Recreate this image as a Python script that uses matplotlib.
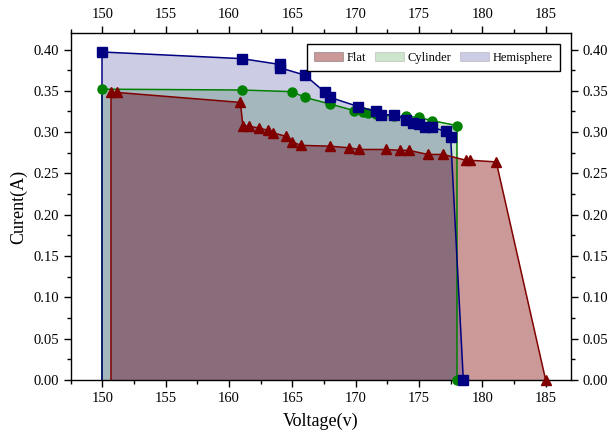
import matplotlib
matplotlib.use('Agg')
import matplotlib.pyplot as plt
from matplotlib.patches import Patch
from matplotlib.ticker import MultipleLocator, FormatStrFormatter

plt.rcParams['font.family'] = ['Liberation Serif', 'DejaVu Serif']

# Flat (triangles)
flat_v = [150.7, 151.2, 160.9, 161.1, 161.6, 162.4, 163.1, 163.5, 164.5, 165.0,
          165.7, 168.0, 169.5, 170.3, 172.4, 173.5, 174.2, 175.7, 176.9, 178.7,
          179.0, 181.1, 185.0]
flat_i = [0.348, 0.348, 0.336, 0.308, 0.307, 0.305, 0.302, 0.299, 0.295, 0.288,
          0.284, 0.283, 0.281, 0.279, 0.279, 0.278, 0.278, 0.273, 0.273, 0.266,
          0.266, 0.264, 0.0]

# Cylinder (circles)
cyl_v = [150.0, 161.0, 165.0, 166.0, 168.0, 169.9, 170.6, 171.0, 171.6, 173.0,
         174.0, 175.0, 176.0, 178.0, 178.0]
cyl_i = [0.352, 0.351, 0.349, 0.342, 0.334, 0.326, 0.324, 0.323, 0.322, 0.319,
         0.319, 0.318, 0.314, 0.308, 0.0]

# Hemisphere (squares)
hemi_v = [150.0, 161.0, 164.0, 164.0, 166.0, 167.6, 168.0, 170.2, 171.6, 172.0,
          173.0, 174.0, 174.5, 175.0, 175.5, 176.0, 177.1, 177.5, 178.5]
hemi_i = [0.397, 0.389, 0.382, 0.378, 0.369, 0.348, 0.342, 0.331, 0.325, 0.321,
          0.321, 0.315, 0.311, 0.310, 0.306, 0.306, 0.301, 0.294, 0.0]

names = ['Flat', 'Cylinder', 'Hemisphere']
colors = ['#800000', '#008000', '#000080']
alphas = [0.4, 0.2, 0.2]
markers = ['^', 'o', 's']
series = [(flat_v, flat_i), (cyl_v, cyl_i), (hemi_v, hemi_i)]

fig = plt.figure(figsize=(6.11, 4.34), dpi=100)
L, R, B, T = 70.6, 571, 380, 33
ax = fig.add_axes([L / 611, (434 - B) / 434, (R - L) / 611, (B - T) / 434])

# filled areas under each curve (cylinder, flat, hemisphere)
for k in [1, 0, 2]:
    v, i = series[k]
    xs = [v[0]] + v + [v[0]]
    ys = [0.0] + i + [0.0]
    ax.fill(xs, ys, facecolor=colors[k], alpha=alphas[k], edgecolor='none', zorder=1)
    ax.plot(xs[:2], ys[:2], color=colors[k], lw=1.1, zorder=2)

# lines with markers: cylinder, hemisphere, flat
for k in [1, 2, 0]:
    v, i = series[k]
    ax.plot(v, i, color=colors[k], lw=1.1, marker=markers[k], ms=6.5,
            zorder=3, clip_on=False)

ax.set_xlim(147.5, 187)
ax.set_ylim(0, 0.42)
ax.xaxis.set_major_locator(MultipleLocator(5))
ax.xaxis.set_minor_locator(MultipleLocator(2.5))
ax.yaxis.set_major_locator(MultipleLocator(0.05))
ax.yaxis.set_minor_locator(MultipleLocator(0.025))
ax.yaxis.set_major_formatter(FormatStrFormatter('%.2f'))
ax.tick_params(which='both', direction='out', top=True, right=True,
               labeltop=True, labelright=True, labelsize=10.5)
ax.tick_params(which='major', length=5, width=1)
ax.tick_params(which='minor', length=3, width=1)
for s in ax.spines.values():
    s.set_linewidth(1)

ax.set_xlabel('Voltage(v)', fontsize=13, labelpad=6)
ax.set_ylabel('Curent(A)', fontsize=13, labelpad=4)

handles = [Patch(facecolor=c, alpha=a, edgecolor='#555555', lw=0.8)
           for c, a in zip(colors, alphas)]
leg = ax.legend(handles, names, loc='upper right', ncol=3, fontsize=9,
                frameon=True, fancybox=False, edgecolor='black',
                borderaxespad=0.9, borderpad=0.6, handlelength=2.3,
                handleheight=0.8, handletextpad=0.3, columnspacing=0.7)
leg.get_frame().set_linewidth(1)
leg.get_frame().set_alpha(1)

fig.savefig('out.png', dpi=100)
